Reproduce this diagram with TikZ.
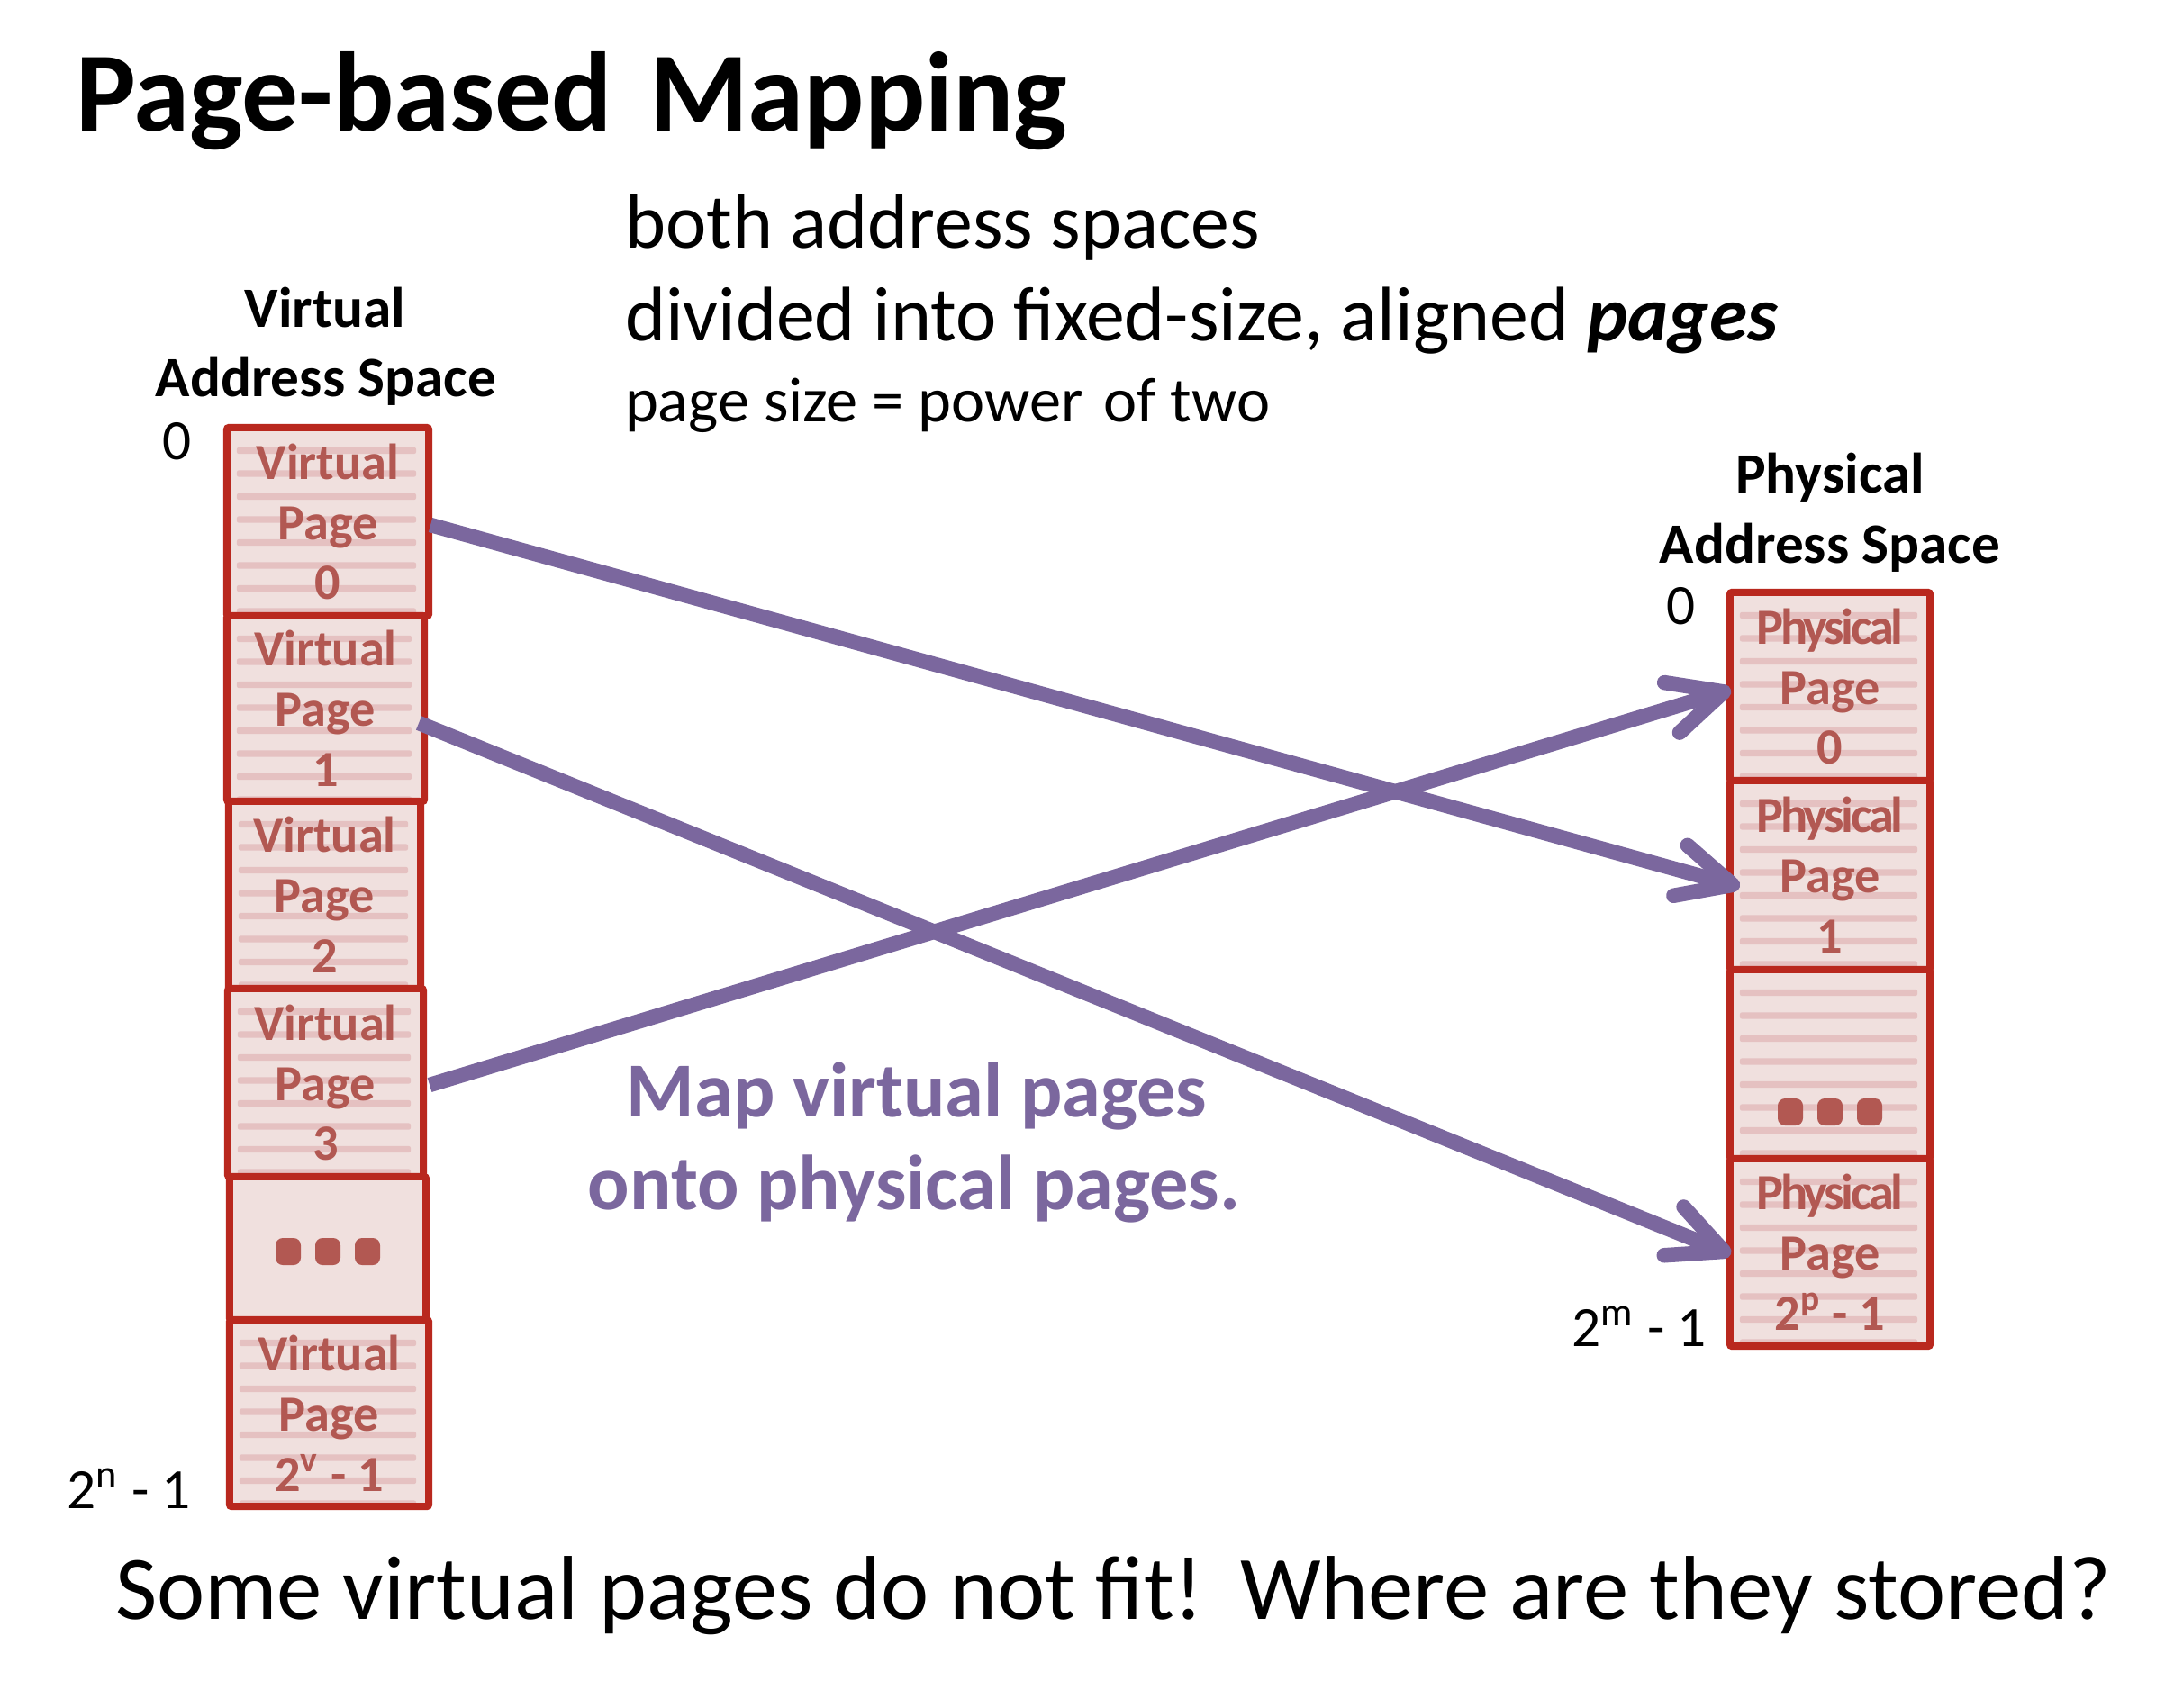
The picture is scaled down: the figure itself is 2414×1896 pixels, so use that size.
\documentclass[tikz,border=0pt]{standalone}
\usepackage{fontspec}
\setmainfont{Carlito}
\newfontfamily\physfont[LetterSpace=-6.0]{Carlito}
\usetikzlibrary{arrows.meta,calc}
\definecolor{boxred}{HTML}{B9281E}
\definecolor{txtred}{HTML}{B25852}
\definecolor{boxfill}{HTML}{F0E0DE}
\definecolor{stripecol}{HTML}{E5C1C1}
\definecolor{arrowpurple}{HTML}{7B679E}
\begin{document}
\begin{tikzpicture}[x=0.01cm,y=-0.01cm,
  txt/.style={inner sep=0pt, outer sep=0pt},
  pagebox/.style={draw=boxred, line width=0.08cm, fill=boxfill, inner sep=0pt, outer sep=0pt,
    text=txtred, align=center, font=\fontsize{16}{19}\selectfont\bfseries, rounded corners=0.6pt},
  striped/.style={path picture={
     \foreach \k in {1,...,8}{
       \fill[stripecol] ([xshift=0.11cm, yshift={-\k*0.255cm+0.036cm}]path picture bounding box.north west)
         rectangle ([xshift=-0.14cm, yshift={-\k*0.255cm-0.036cm}]path picture bounding box.north east);
     }}},
  maparrow/.style={draw=arrowpurple, line width=0.165cm, -{Straight Barb[length=0.6cm, width=0.58cm, round]}},
  dotmark/.style={fill=txtred, rounded corners=0.08cm},
  lbl/.style={txt, font=\fontsize{18}{21}\selectfont\bfseries},
  addr/.style={txt, font=\fontsize{18}{21}\selectfont},
]
\fill[white] (0,0) rectangle (2414,1896);
\useasboundingbox (0,0) rectangle (2414,1896);

% title and notes
\node[txt, anchor=base west, font=\fontsize{35.7}{40}\selectfont\bfseries] (title) at (84,145) {Page-based\hspace{0.1em} Mapping};
\node[txt, anchor=base west, font=\fontsize{24.4}{28}\selectfont] (s1) at (694,275) {both address spaces};
\node[txt, anchor=base west, font=\fontsize{24.4}{28}\selectfont] (s2) at (694,378) {divided into fixed-size, aligned \textbf{\textit{pages}}};
\node[txt, anchor=base west, font=\fontsize{20}{24}\selectfont] (s3) at (694,468) {page size = power\hspace{0.1em} of two};

% virtual address space
\node[lbl, anchor=base] (vt1) at (361,363) {Virtual};
\node[lbl, anchor=base] (vt2) at (362,440) {Address Space};
\node[addr, anchor=base] (vz) at (197,510) {0};
\node[addr, anchor=base east] (vn) at (212,1675) {2\textsuperscript{n} - 1};

\node[pagebox, striped, minimum width=2.24cm, minimum height=2.09cm] (v0) at (364,579.5) {Virtual\\Page\\0};
\node[pagebox, striped, minimum width=2.19cm, minimum height=2.06cm] (v1) at (361.5,787) {Virtual\\Page\\1};
\node[pagebox, striped, minimum width=2.13cm, minimum height=2.08cm] (v2) at (360.5,994) {Virtual\\Page\\2};
\node[pagebox, striped, minimum width=2.17cm, minimum height=2.09cm] (v3) at (361.5,1202.5) {Virtual\\Page\\3};
\node[pagebox, minimum width=2.18cm, minimum height=1.59cm] (vd) at (364,1386.5) {};
\node[pagebox, striped, minimum width=2.21cm, minimum height=2.07cm] (vl) at (365.5,1569.5) {Virtual\\Page\\2\textsuperscript{v} - 1};
\foreach \dx in {-44,0,44}
  \fill[dotmark] ($(vd.center)+(\dx-14,3.5-15)$) rectangle ($(vd.center)+(\dx+14,3.5+15)$);

% physical address space
\node[lbl, anchor=base] (pt1) at (2032,547) {Physical};
\node[lbl, anchor=base] (pt2) at (2032,625) {Address Space};
\node[addr, anchor=base] (pz) at (1867,693) {0};
\node[addr, anchor=base east] (pm) at (1895,1495) {2\textsuperscript{m} - 1};

\node[pagebox, striped, minimum width=2.22cm, minimum height=2.09cm] (p0) at (2032,762.5) {{\physfont\bfseries Physical}\\Page\\0};
\node[pagebox, striped, minimum width=2.22cm, minimum height=2.10cm] (p1) at (2032,972) {{\physfont\bfseries Physical}\\Page\\1};
\node[pagebox, striped, minimum width=2.22cm, minimum height=2.10cm] (pd) at (2032,1182) {};
\node[pagebox, striped, minimum width=2.22cm, minimum height=2.08cm] (pl) at (2032,1391) {{\physfont\bfseries Physical}\\Page\\2\textsuperscript{p} - 1};
\foreach \dx in {-44,0,44}
  \fill[dotmark] ($(pd.center)+(\dx-14,53-15)$) rectangle ($(pd.center)+(\dx+14,53+15)$);

% mapping arrows
\draw[maparrow] ($(v0.east)+(2,3.5)$) -- ($(p1.west)+(11,13)$);
\draw[maparrow] ($(v1.east)+(-6,16)$) -- ($(pl.west)+(1,2)$);
\draw[maparrow] ($(v3.east)+(7,2.5)$) -- ($(p0.west)+(1,3.5)$);

% captions
\node[txt, anchor=base, text=arrowpurple, font=\fontsize{24.6}{29}\selectfont\bfseries] (m1) at (1018,1240) {Map virtual pages};
\node[txt, anchor=base, text=arrowpurple, font=\fontsize{24.6}{29}\selectfont\bfseries] (m2) at (1015,1343) {onto physical pages.};
\node[txt, anchor=base west, font=\fontsize{28.65}{34}\selectfont] (q) at (128,1798) {Some virtual pages do not fit!\hspace{0.1em} Where are they stored?};
\end{tikzpicture}
\end{document}
